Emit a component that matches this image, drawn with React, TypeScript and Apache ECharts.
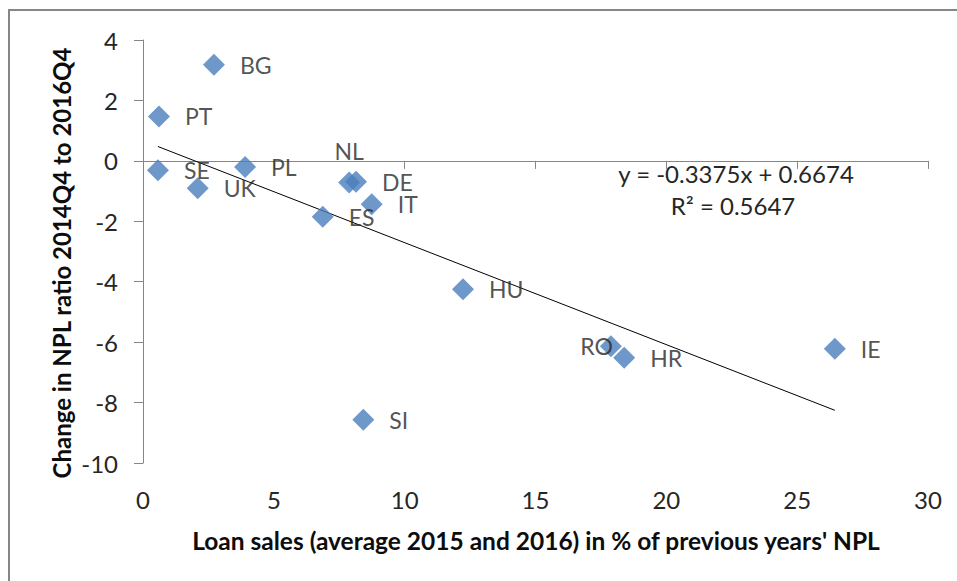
import React, { useEffect, useRef } from "react";
import * as echarts from "echarts";

// Country codes and values
const countries = ["BG", "PT", "SE", "UK", "PL", "NL", "DE", "IT", "ES", "HU", "RO", "HR", "IE", "SI"];
const loanSales = [2.71, 0.61, 0.57, 2.09, 3.9, 7.88, 8.14, 8.74, 6.87, 12.23, 17.88, 18.39, 26.44, 8.42];
const nplChange = [3.18, 1.47, -0.31, -0.91, -0.2, -0.72, -0.69, -1.44, -1.85, -4.25, -6.14, -6.52, -6.22, -8.57];

// Linear trendline as printed on the chart
const trendSlope = -0.3375;
const trendIntercept = 0.6674;
const equationText = "y = -0.3375x + 0.6674";
const rSquaredText = "R² = 0.5647";

const xTitle = "Loan sales (average 2015 and 2016) in % of previous years' NPL";
const yTitle = "Change in NPL ratio 2014Q4 to 2016Q4";

const FONT = "Lato, 'Liberation Sans', sans-serif";
const LABEL_COLOR = "#262626";
const AXIS_COLOR = "#868686";

const labelOverrides: Record<string, any> = {
  NL: { position: "top", distance: 9, offset: [0, 0] },
  RO: { position: "left", distance: -13, offset: [0, -3] },
};

export default function App() {
  const ref = useRef<HTMLDivElement>(null);

  useEffect(() => {
    if (!ref.current) return;
    const chart = echarts.init(ref.current, undefined, { renderer: "svg" });

    const points = countries.map((name, i) => {
      const item: any = { name, value: [loanSales[i], nplChange[i]] };
      if (labelOverrides[name]) item.label = labelOverrides[name];
      return item;
    });

    const xMin = Math.min(...loanSales);
    const xMax = Math.max(...loanSales);
    const trend = [
      [xMin, trendSlope * xMin + trendIntercept],
      [xMax, trendSlope * xMax + trendIntercept],
    ];

    chart.setOption({
      animation: false,
      backgroundColor: "#ffffff",
      grid: { left: 143, right: 29, top: 40, bottom: 118, containLabel: false },
      xAxis: [
        {
          type: "value",
          min: 0,
          max: 30,
          interval: 5,
          axisLine: { show: false, onZero: false },
          axisTick: { show: false },
          splitLine: { show: false },
          axisLabel: { color: LABEL_COLOR, fontFamily: FONT, fontSize: 24, margin: 24 },
        },
        {
          type: "value",
          min: 0,
          max: 30,
          interval: 5,
          position: "bottom",
          axisLine: { show: true, onZero: true, onZeroAxisIndex: 0, lineStyle: { color: AXIS_COLOR, width: 1 } },
          axisTick: { show: true, length: 8, inside: false, lineStyle: { color: AXIS_COLOR } },
          axisLabel: { show: false },
          splitLine: { show: false },
        },
      ],
      yAxis: {
        type: "value",
        min: -10,
        max: 4,
        interval: 2,
        axisLine: { show: true, onZero: false, lineStyle: { color: AXIS_COLOR, width: 1 } },
        axisTick: { show: true, length: 9, lineStyle: { color: AXIS_COLOR } },
        splitLine: { show: false },
        axisLabel: { color: LABEL_COLOR, fontFamily: FONT, fontSize: 24, margin: 25 },
      },
      series: [
        {
          type: "line",
          xAxisIndex: 0,
          data: trend,
          symbol: "none",
          silent: true,
          lineStyle: { color: "#000000", width: 1 },
          z: 3,
        },
        {
          type: "scatter",
          xAxisIndex: 0,
          data: points,
          symbol: "diamond",
          symbolSize: 22,
          itemStyle: { color: "#4A7EBB" },
          label: {
            show: true,
            formatter: "{b}",
            position: "right",
            distance: 15,
            offset: [0, 2],
            color: LABEL_COLOR,
            fontFamily: FONT,
            fontSize: 23,
          },
          labelLayout: { hideOverlap: false },
          z: 4,
        },
      ],
      graphic: [
        {
          type: "rect",
          shape: { x: 9, y: 10, width: 2000, height: 2000 },
          style: { fill: "none", stroke: AXIS_COLOR, lineWidth: 2 },
          silent: true,
        },
        {
          type: "text",
          x: 536,
          y: 540,
          style: {
            text: xTitle,
            font: `bold 24.5px ${FONT}`,
            fill: "#0d0d0d",
            textAlign: "center",
            textVerticalAlign: "middle",
          },
        },
        {
          type: "text",
          x: 61,
          y: 263,
          rotation: Math.PI / 2,
          style: {
            text: yTitle,
            font: `bold 24px ${FONT}`,
            fill: "#0d0d0d",
            textAlign: "center",
            textVerticalAlign: "middle",
          },
        },
        {
          type: "text",
          x: 736,
          y: 173,
          style: {
            text: equationText,
            font: `24px ${FONT}`,
            fill: LABEL_COLOR,
            textAlign: "center",
            textVerticalAlign: "middle",
          },
        },
        {
          type: "text",
          x: 733,
          y: 205,
          style: {
            text: rSquaredText,
            font: `24px ${FONT}`,
            fill: LABEL_COLOR,
            textAlign: "center",
            textVerticalAlign: "middle",
          },
        },
      ],
    });

    return () => chart.dispose();
  }, []);

  return (
    <div
      ref={ref}
      style={{ position: "fixed", left: 0, top: 0, width: 957, height: 581 }}
    />
  );
}
